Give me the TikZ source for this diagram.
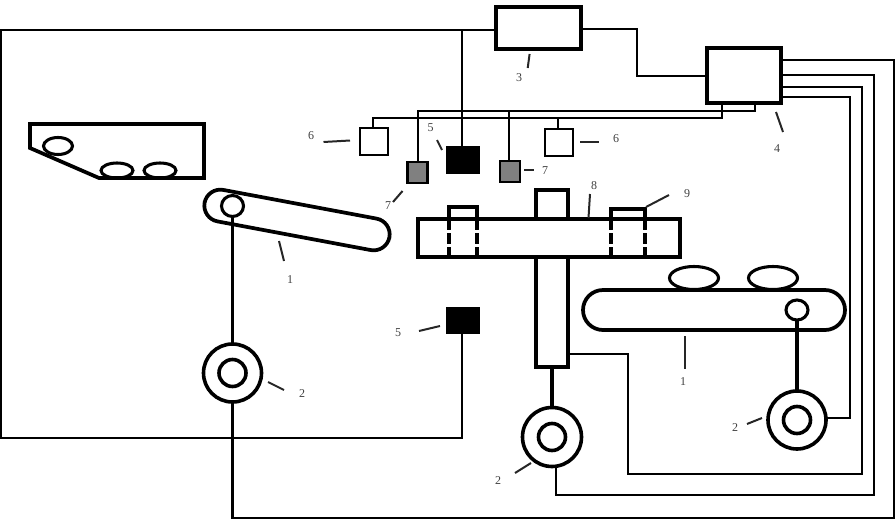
\documentclass[tikz,border=0pt]{standalone}
\usepackage{fontspec}
\setmainfont{Liberation Serif}
\usetikzlibrary{shapes.geometric}
\def\u{0.75pt}
\tikzset{
  wire/.style={line width=1.6pt,line join=miter},
  shaft/.style={line width=2.6pt},
  lead/.style={line width=1.5pt,black!85},
  lab/.style={font=\fontsize{9}{10}\selectfont,text=black!75,inner sep=0pt},
  blockbox/.style={draw,line width=2.8pt,fill=white,inner sep=0,outer sep=0},
  squarebox/.style={draw,line width=1.8pt,fill=white,inner sep=0,outer sep=0},
  graybox/.style={draw,line width=1.6pt,fill=black!50,inner sep=0,outer sep=0},
  blackbox/.style={draw,line width=1pt,fill=black,inner sep=0,outer sep=0},
  beltbox/.style={draw,line width=2.8pt,inner sep=0,outer sep=0},
  blob/.style={draw,ellipse,line width=2.3pt,fill=white,inner sep=0,outer sep=0},
  wheel/.style={draw,circle,line width=2.7pt,fill=white,inner sep=0,outer sep=0},
  guide/.style={line width=2.8pt},
}
\newcommand\leadline[3]{\coordinate (#1a) at (#2); \coordinate (#1b) at (#3); \draw[lead] (#1a) -- (#1b);}
\begin{document}
\begin{tikzpicture}[x=0.75pt,y=-0.75pt]
\useasboundingbox (0,0) rectangle (895,521);
% main blocks
\node[blockbox,minimum width=85*\u,minimum height=42*\u] (ctrl3) at (538.5,28) {};
\node[blockbox,minimum width=74*\u,minimum height=55*\u] (ctrl4) at (744,75.5) {};
\node[squarebox,minimum width=28*\u,minimum height=27*\u] (sqL) at (374,141.5) {};
\node[squarebox,minimum width=28*\u,minimum height=27*\u] (sqR) at (559,142.5) {};
\node[graybox,minimum width=20*\u,minimum height=21*\u] (grL) at (417.5,172.5) {};
\node[graybox,minimum width=20*\u,minimum height=21*\u] (grR) at (510,171.5) {};
\node[blackbox,minimum width=33*\u,minimum height=26*\u] (blkT) at (463,160) {};
\node[blackbox,minimum width=33*\u,minimum height=26*\u] (blkB) at (463,320.5) {};
% wheels
\node[wheel,minimum size=58*\u] (m1) at (232.5,373) {};
\node[wheel,minimum size=27*\u] (m1i) at (232.5,373) {};
\node[wheel,minimum size=59*\u] (m2) at (552,437) {};
\node[wheel,minimum size=27*\u] (m2i) at (552,437) {};
\node[wheel,minimum size=58*\u] (m3) at (797,420) {};
\node[wheel,minimum size=27*\u] (m3i) at (797,420) {};
% wire stubs
\coordinate (c4a) at (781,60);
\coordinate (c4b) at (781,75);
\coordinate (c4c) at (781,87);
\coordinate (c4d) at (781,97);
\coordinate (c4e) at (722,103);
\coordinate (c4f) at (755,103);
\coordinate (cyl) at (568,354);
\coordinate (j3) at (462,30);
\coordinate (j3b) at (496,30);
\coordinate (j3c) at (581,29);
% wires
\draw[wire] (j3b) -- (1,30) -- (1,438) -- (462,438) -- (blkB.south -| 462,0);
\draw[wire] (j3) -- (blkT.north -| j3);
\draw[wire] (j3c) -- (637,29) -- (637,76) -- (ctrl4.west |- 0,76);
\draw[wire] (c4a) -- (893.8,60) -- (893.8,518) -- (232.5,518) -- (m1.south);
\draw[wire] (c4b) -- (874,75) -- (874,495) -- (556,495) -- (556,465.5);
\draw[wire] (c4c) -- (862,87) -- (862,474) -- (628,474) -- (628,354) -- (cyl);
\draw[wire] (c4d) -- (850,97) -- (850,418) -- (m3.east |- 0,418);
\draw[wire] (c4e) -- (722,118) -- (373,118) -- (373,128);
\draw[wire] (c4f) -- (755,111) -- (418,111) -- (grL.north -| 418,0);
\draw[wire] (558,118) -- (sqR.north -| 558,0);
\draw[wire] (509,111) -- (grR.north -| 509,0);
% hopper
\node[blob,minimum width=29*\u,minimum height=17*\u] (h1) at (58,146) {};
\node[blob,minimum width=32*\u,minimum height=15*\u] (h2) at (117,170.5) {};
\node[blob,minimum width=32*\u,minimum height=15*\u] (h3) at (160,170.5) {};
\draw[guide] (30,124) -- (204,124) -- (204,178) -- (99,178) -- (30,148) -- cycle;
% inclined belt
\node[beltbox,rounded corners=16*\u,minimum width=188*\u,minimum height=32*\u,rotate=-10.6] (belt1) at (297,220) {};
\node[blob,minimum width=22*\u,minimum height=21*\u] (p1) at (232.5,206) {};
\draw[shaft] (p1.south) -- (m1.north);
% right belt
\node[blob,minimum width=49*\u,minimum height=23*\u] (a1) at (694,278) {};
\node[blob,minimum width=49*\u,minimum height=23*\u] (a2) at (773,278) {};
\node[beltbox,rounded corners=20*\u,minimum width=262*\u,minimum height=40*\u] (belt2) at (714,310) {};
\node[blob,minimum width=22*\u,minimum height=20*\u] (p2) at (797,310) {};
\draw[shaft] (p2.south) -- (m3.north);
% press
\node[beltbox,fill=white,minimum width=32*\u,minimum height=29*\u] (cap) at (552,204.5) {};
\node[beltbox,fill=white,minimum width=32*\u,minimum height=110*\u] (cyl2) at (552,312) {};
\draw[shaft] (cyl2.south) -- (m2.north);
\node[beltbox,fill=white,minimum width=262*\u,minimum height=38*\u] (beam) at (549,238) {};
\draw[guide] (449,257) |- (477,207) -- (477,257);
\draw[guide] (611,257) |- (645,209) -- (645,257);
\foreach \xx in {449,477,611,645}{
  \draw[line width=2.9pt,white] (\xx,229.5) -- (\xx,232.5);
  \draw[line width=2.9pt,white] (\xx,244) -- (\xx,247);
}
% leaders
\leadline{t1}{279,241}{284,261}
\leadline{t2}{268,382}{284,390}
\leadline{t3}{529.6,54}{527.7,68}
\leadline{t4}{776,112}{783,132}
\leadline{t5}{437,140}{442,150}
\leadline{t6}{419,331}{440,326}
\leadline{t7}{323.5,142}{350,140.5}
\leadline{t8}{580,142}{599,142}
\leadline{t9}{393,202}{402.5,191}
\leadline{t10}{524,170}{534,170}
\leadline{t11}{588.5,218}{590,194}
\leadline{t12}{646,207}{669,195}
\leadline{t13}{685,336}{685,369}
\leadline{t14}{515,473}{531,463}
\leadline{t15}{747,424}{762,418}
% labels
\node[lab] (l1) at (290,280) {1};
\node[lab] (l1b) at (683,382) {1};
\node[lab] (l2) at (302,394) {2};
\node[lab] (l2b) at (498,481) {2};
\node[lab] (l2c) at (735,428) {2};
\node[lab] (l3) at (519,78) {3};
\node[lab] (l4) at (777,149) {4};
\node[lab] (l5) at (430.5,128) {5};
\node[lab] (l5b) at (398,333) {5};
\node[lab] (l6) at (311,136) {6};
\node[lab] (l6b) at (616,139) {6};
\node[lab] (l7) at (388,206) {7};
\node[lab] (l7b) at (545,171) {7};
\node[lab] (l8) at (594,186) {8};
\node[lab] (l9) at (687,194) {9};
\end{tikzpicture}
\end{document}
